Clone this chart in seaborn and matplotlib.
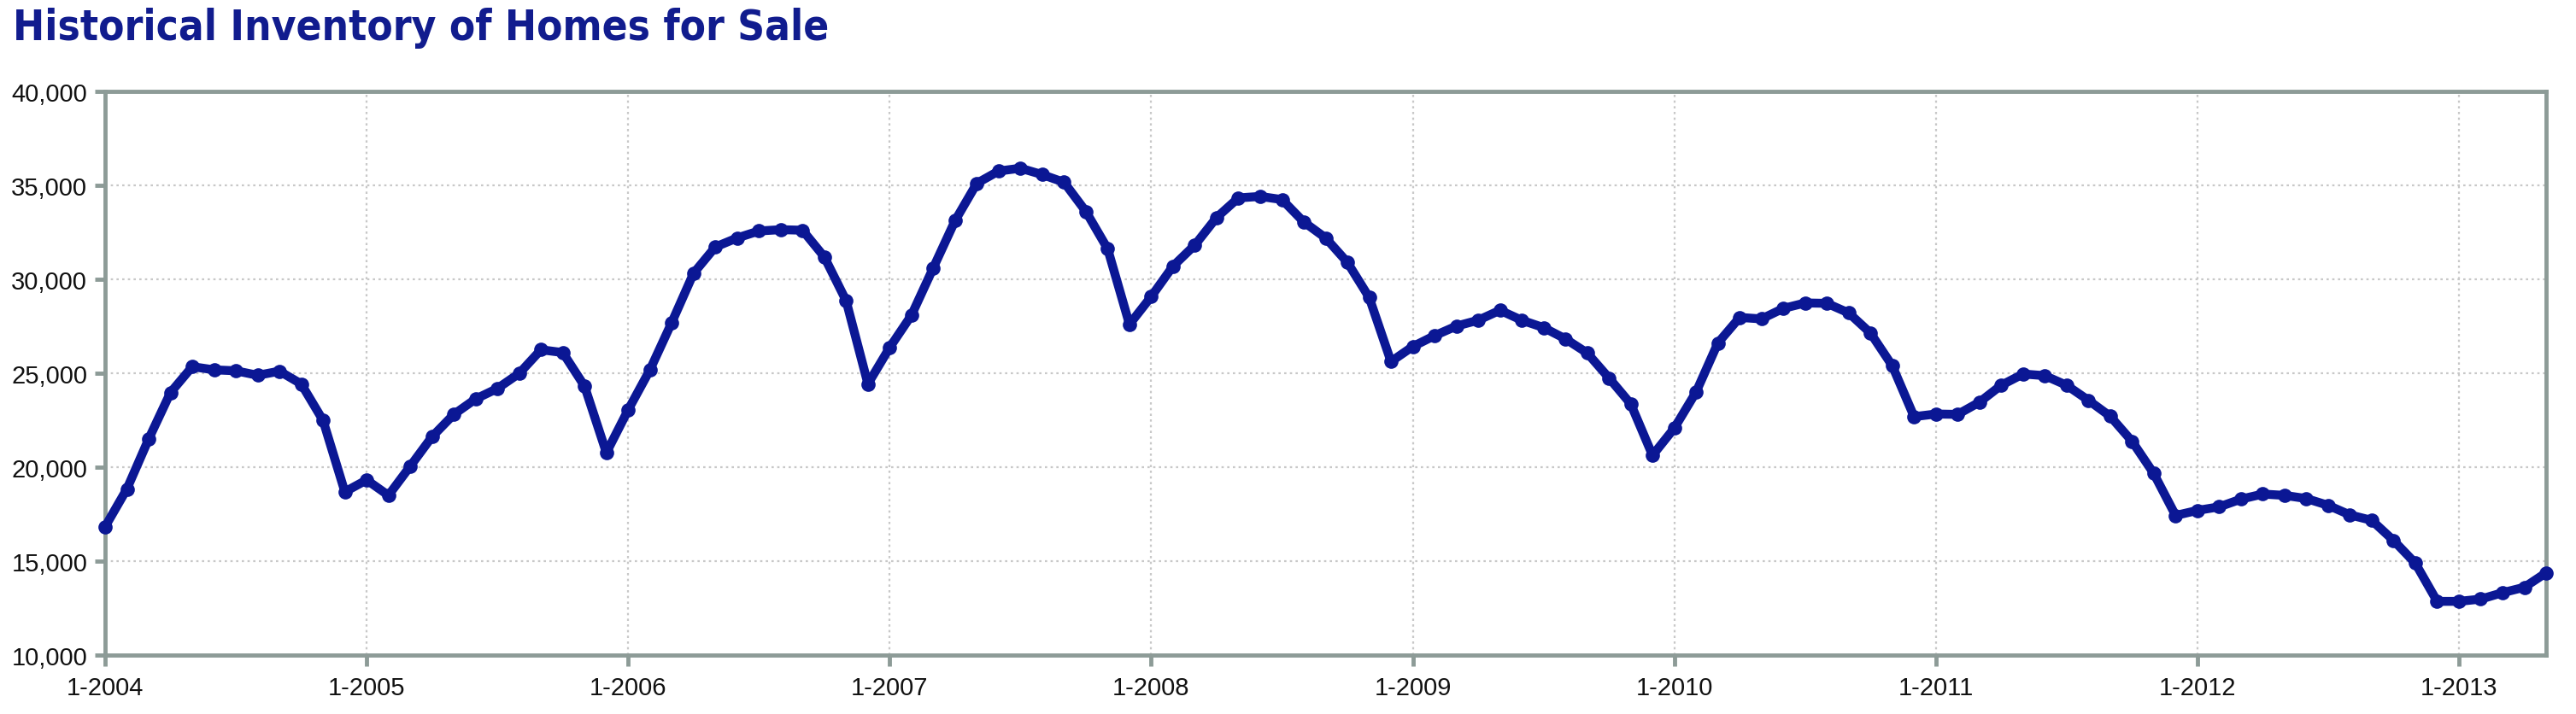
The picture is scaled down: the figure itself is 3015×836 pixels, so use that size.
import pandas as pd
import matplotlib
matplotlib.use("Agg")
import matplotlib.pyplot as plt
import seaborn as sns
from matplotlib.ticker import FuncFormatter, MultipleLocator

# Inventario mensal, 1-2004 ate 5-2013
inventory = [
    16830, 18840, 21500, 23970, 25350, 25180, 25130, 24890, 25110, 24430, 22490, 18690,
    19320, 18500, 20050, 21620, 22810, 23630, 24190, 24990, 26250, 26100, 24310, 20770,
    23050, 25180, 27700, 30320, 31720, 32200, 32570, 32640, 32610, 31190, 28860, 24430,
    26370, 28090, 30610, 33120, 35110, 35760, 35910, 35570, 35160, 33610, 31620, 27600,
    29080, 30700, 31820, 33290, 34330, 34410, 34240, 33050, 32200, 30900, 29030, 25620,
    26420, 27000, 27510, 27820, 28350, 27820, 27430, 26830, 26080, 24750, 23370, 20630,
    22080, 24000, 26610, 27970, 27890, 28450, 28740, 28720, 28210, 27140, 25400, 22690,
    22830, 22810, 23460, 24360, 24960, 24870, 24360, 23560, 22710, 21380, 19660, 17430,
    17700, 17890, 18300, 18570, 18500, 18330, 17970, 17460, 17170, 16100, 14890, 12860,
    12860, 12980, 13320, 13610, 14380,
]
months = list(range(len(inventory)))
year_labels = ["1-2004", "1-2005", "1-2006", "1-2007", "1-2008",
               "1-2009", "1-2010", "1-2011", "1-2012", "1-2013"]

df = pd.DataFrame({"mes": months, "estoque": inventory})

sns.set_style("white")
plt.rcParams["font.family"] = ["Liberation Sans", "DejaVu Sans"]

fig = plt.figure(figsize=(30.15, 8.37), dpi=100)
ax = fig.add_axes([0.0408, 0.0824, 0.9476, 0.7886])

line_color = "#0b1794"
sns.lineplot(data=df, x="mes", y="estoque", ax=ax, color=line_color,
             linewidth=7.5, marker="o", markersize=12, markeredgewidth=0,
             clip_on=False, zorder=5)

ax.set_xlim(0, len(inventory) - 1)
ax.set_ylim(10000, 40000)
ax.set_xticks([12 * i for i in range(len(year_labels))])
ax.set_xticklabels(year_labels)
ax.yaxis.set_major_locator(MultipleLocator(5000))
ax.yaxis.set_major_formatter(FuncFormatter(lambda v, p: f"{int(v):,}"))

ax.grid(True, linestyle=(0, (1.2, 1.8)), color="#c8c8c8", linewidth=1.6)
ax.set_axisbelow(True)

spine_color = "#8d9b97"
for s in ax.spines.values():
    s.set_color(spine_color)
    s.set_linewidth(3.5)
ax.tick_params(axis="both", colors=spine_color, length=9, width=3.5,
               labelsize=21, labelcolor="#111111", direction="out")
ax.tick_params(axis="x", pad=8)
ax.tick_params(axis="y", pad=6)
ax.tick_params(top=False, right=False, bottom=True, left=True)
ax.set_xlabel("")
ax.set_ylabel("")

fig.text(0.005, 1 - 9 / 837, "Historical Inventory of Homes for Sale",
         ha="left", va="top", fontsize=35.5, fontweight="bold", color="#111c8e",
         fontstretch="condensed", family=["DejaVu Sans"])

fig.savefig("out.png", dpi=100)
